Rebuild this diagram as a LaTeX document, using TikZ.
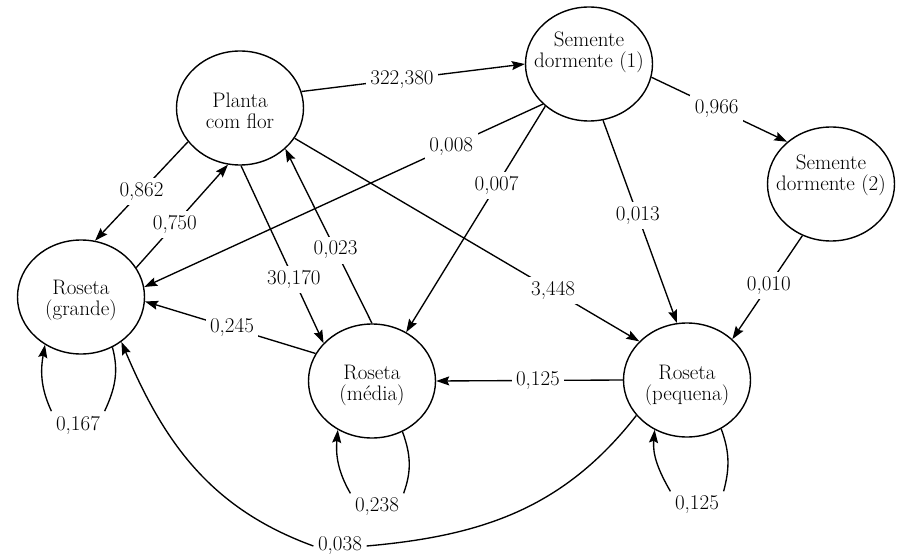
\documentclass[tikz,border=0pt]{standalone}
\usepackage{fontspec}
\usetikzlibrary{shapes.geometric,arrows.meta}
\begin{document}
\begin{tikzpicture}[x=1pt,y=-1pt,
  font=\fontsize{21}{21}\selectfont,
  state/.style={ellipse,draw,line width=1.4pt,minimum width=127pt,minimum height=114pt,inner sep=0pt},
  conn/.style={line width=1.35pt},
  arr/.style={conn,-{Stealth[length=13pt,width=9pt,inset=2pt]}},
  lab/.style={fill=white,inner sep=4.5pt},
  txt/.style={align=center}]
\useasboundingbox (0,0) rectangle (902,556);
\fill[white] (0,0) rectangle (902,556);
% states
\node[state,label={[txt,yshift=-3pt]center:Planta\\com flor}] (P) at (240,108) {};
\node[state,label={[txt,yshift=12pt]center:Semente\\dormente (1)}] (S1) at (589,64) {};
\node[state,label={[txt,yshift=9pt]center:Semente\\dormente (2)}] (S2) at (831,184) {};
\node[state,label={[txt,yshift=-3pt]center:Roseta\\(grande)}] (G) at (81,297) {};
\node[state,label={[txt,yshift=-4pt]center:Roseta\\(média)}] (M) at (372,381) {};
\node[state,label={[txt,yshift=-5pt]center:Roseta\\(pequena)}] (Q) at (687,380) {};
% straight transitions
\draw[arr] (P.15) -- node[lab,pos=0.45]{322,380} (S1.180);
\draw[arr] (S1.348) -- node[lab,pos=0.48]{0,966} (S2.136);
\draw[arr] (P.213) -- node[lab,pos=0.5]{0,862} (G.76);
\draw[arr] (G.28) -- node[lab,pos=0.42]{0,750} (P.258);
\draw[arr] (P.271) -- node[lab,pos=0.64]{30,170} (M.142);
\draw[arr] (M.90) -- node[lab,pos=0.42]{0,023} (P.318);
\draw[arr] (P.331) -- node[lab,pos=0.75]{3,448} (Q.141);
\draw[arr] (S1.221) -- node[lab,pos=0.23]{0,008} (G.9);
\draw[arr] (S1.224) -- node[lab,pos=0.35]{0,007} (M.55);
\draw[arr] (S1.284) -- node[lab,pos=0.47]{0,013} (Q.100);
\draw[arr] (S2.241) -- node[lab,pos=0.48]{0,010} (Q.42);
\draw[arr] (Q.180) -- node[lab,pos=0.455]{0,125} (M.0);
\draw[arr] (M.154) -- node[lab,pos=0.49]{0,245} (G.356);
% long curve
\node[lab] (l038) at (340,546) {0,038};
\draw[conn] (Q.215) to[out=232,in=5] (l038.east);
\draw[arr] (l038.west) to[out=160,in=293] (G.312);
% self loops
\node[lab] (l167) at (78,425) {0,167};
\draw[conn] (G.302) to[out=-75,in=65] (l167.north east);
\draw[arr] (l167.north west) to[out=115,in=260] (G.233);
\node[lab] (l238) at (377,507) {0,238};
\draw[conn] (M.301) to[out=-70,in=70] (l238.north east);
\draw[arr] (l238.north west) to[out=120,in=265] (M.235);
\node[lab] (l125) at (697,505) {0,125};
\draw[conn] (Q.305) to[out=-70,in=75] (l125.north east);
\draw[arr] (l125.north west) to[out=120,in=265] (Q.237);
\end{tikzpicture}
\end{document}
